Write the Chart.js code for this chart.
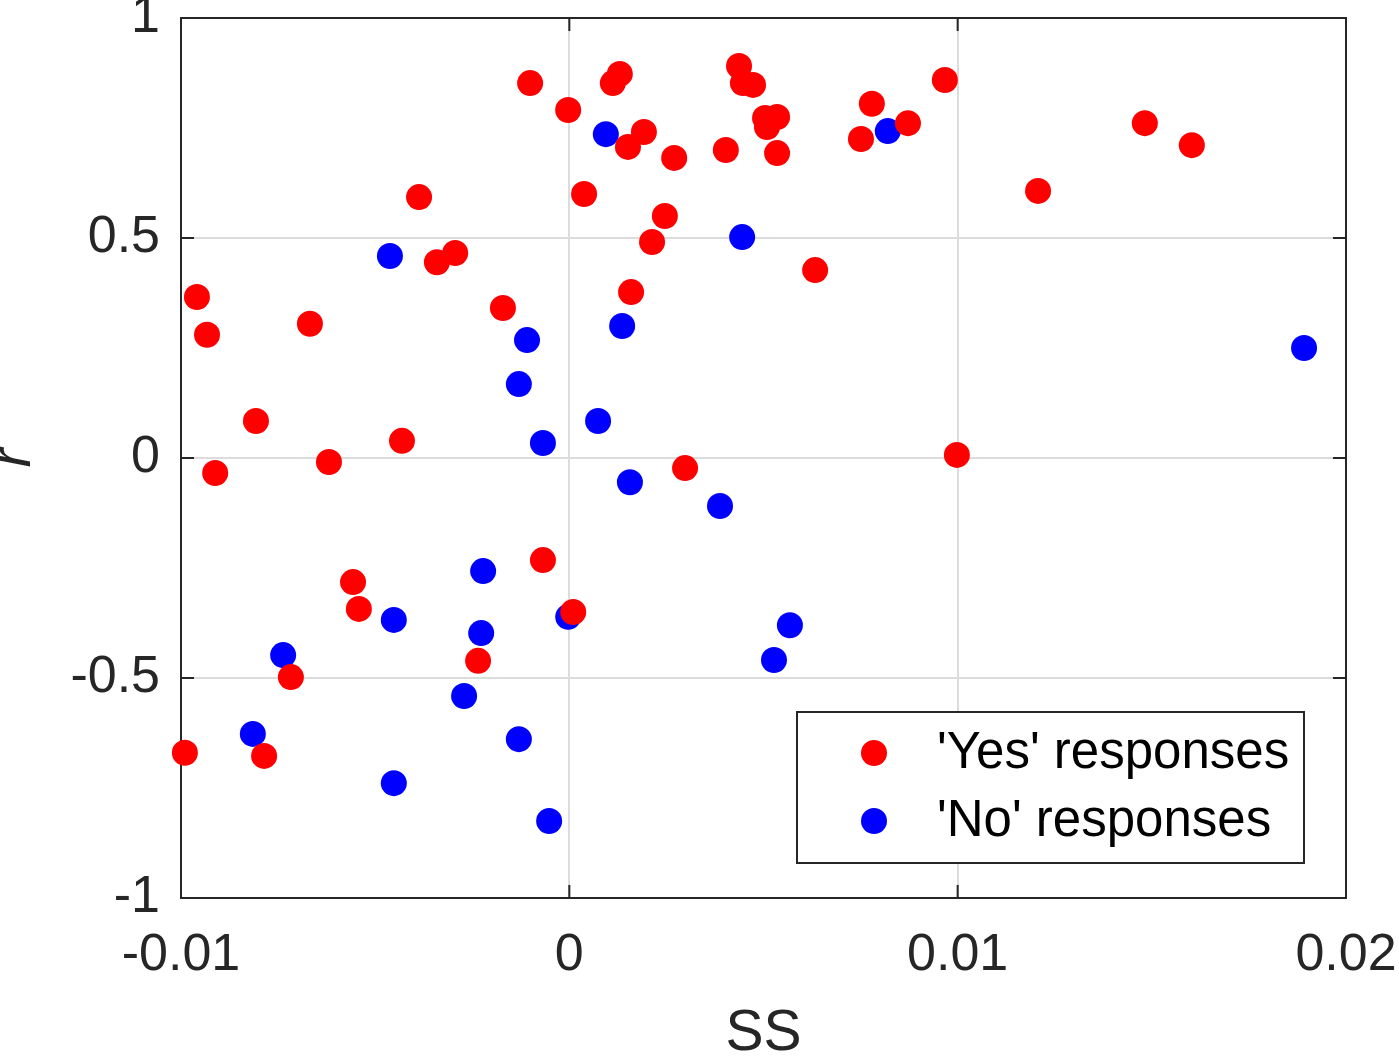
<!DOCTYPE html>
<html>
<head>
<meta charset="utf-8">
<script src="https://cdn.jsdelivr.net/npm/chart.js@4.4.1/dist/chart.umd.min.js"></script>
<style>
  html, body { margin: 0; padding: 0; background: #fff; }
  #wrap { width: 1399px; height: 1058px; }
</style>
</head>
<body>
<div id="wrap"><canvas id="myChart" width="1399" height="1058"></canvas></div>
<script>
// 'Yes' responses
var yesSS = [-0.00959, -0.00933, -0.00912, -0.00807, -0.00990, -0.00786, -0.00717, -0.00668,
             -0.00619, -0.00557, -0.00542, -0.00431, -0.00387, -0.00341, -0.00294, -0.00171,
             -0.00235, -0.00101, -0.00068, -0.00003, 0.00010, 0.00038, 0.00112, 0.00130,
             0.00151, 0.00192, 0.00159, 0.00213, 0.00246, 0.00270, 0.00298, 0.00403,
             0.00437, 0.00447, 0.00473, 0.00504, 0.00509, 0.00535, 0.00535, 0.00633,
             0.00751, 0.00779, 0.00872, 0.00967, 0.00998, 0.01207, 0.01482, 0.01603];
var yesR = [0.366, 0.280, -0.034, 0.084, -0.670, -0.677, -0.498, 0.305,
            -0.009, -0.282, -0.343, 0.039, 0.593, 0.445, 0.466, 0.341,
            -0.461, 0.852, -0.232, 0.791, -0.350, 0.600, 0.852, 0.873,
            0.707, 0.741, 0.377, 0.491, 0.550, 0.682, -0.023, 0.700,
            0.891, 0.852, 0.848, 0.773, 0.752, 0.775, 0.693, 0.427,
            0.725, 0.805, 0.761, 0.859, 0.007, 0.607, 0.761, 0.711];

// 'No' responses
var noSS = [-0.00462, -0.00109, -0.00130, -0.00068, 0.00094, 0.00136, 0.00074, 0.00156,
            0.00445, 0.00388, 0.00820, 0.01892, -0.00222, -0.00227, -0.00452, -0.00737,
            -0.00815, -0.00452, -0.00271, -0.00130, -0.00052, -0.00003, 0.00568, 0.00527];
var noR = [0.459, 0.268, 0.168, 0.034, 0.736, 0.300, 0.084, -0.055,
           0.502, -0.109, 0.743, 0.250, -0.257, -0.398, -0.368, -0.448,
           -0.627, -0.739, -0.541, -0.639, -0.825, -0.361, -0.380, -0.459];

var xTicks = [-0.01, 0, 0.01, 0.02];
var yTicks = [-1, -0.5, 0, 0.5, 1];
var seriesNames = ["'Yes' responses", "'No' responses"];

var axisColor = '#262626';
var fontFamily = '"Liberation Sans", Arial, Helvetica, sans-serif';

function toPoints(xs, ys) {
  var pts = [];
  for (var i = 0; i < xs.length; i++) {
    pts.push({ x: xs[i], y: ys[i] });
  }
  return pts;
}

// full box with ticks pointing inwards (under the markers)
var boxPlugin = {
  id: 'box',
  beforeDatasetsDraw: function (chart) {
    var ctx = chart.ctx, a = chart.chartArea;
    var sx = chart.scales.x, sy = chart.scales.y;
    var len = 13;
    ctx.save();
    ctx.strokeStyle = axisColor;
    ctx.lineWidth = 2;
    ctx.beginPath();
    xTicks.forEach(function (v) {
      var px = sx.getPixelForValue(v);
      ctx.moveTo(px, a.bottom); ctx.lineTo(px, a.bottom - len);
      ctx.moveTo(px, a.top); ctx.lineTo(px, a.top + len);
    });
    yTicks.forEach(function (v) {
      var py = sy.getPixelForValue(v);
      ctx.moveTo(a.left, py); ctx.lineTo(a.left + len, py);
      ctx.moveTo(a.right, py); ctx.lineTo(a.right - len, py);
    });
    ctx.stroke();
    ctx.strokeRect(a.left, a.top, a.right - a.left, a.bottom - a.top);
    ctx.restore();
  }
};

// legend box in the lower right corner of the plot
var legendPlugin = {
  id: 'boxLegend',
  afterDraw: function (chart) {
    var ctx = chart.ctx, a = chart.chartArea;
    var w = 507, h = 151;
    var right = a.right - 42, bottom = a.bottom - 35;
    var left = right - w, top = bottom - h;
    ctx.save();
    ctx.fillStyle = '#ffffff';
    ctx.fillRect(left, top, w, h);
    ctx.strokeStyle = axisColor;
    ctx.lineWidth = 2;
    ctx.strokeRect(left, top, w, h);
    ctx.font = '51px ' + fontFamily;
    ctx.textAlign = 'left';
    ctx.textBaseline = 'middle';
    chart.data.datasets.forEach(function (ds, i) {
      var cy = top + 41 + i * 68;
      ctx.fillStyle = ds.backgroundColor;
      ctx.beginPath();
      ctx.arc(left + 77, cy, 13, 0, Math.PI * 2);
      ctx.fill();
      ctx.fillStyle = '#000000';
      ctx.fillText(ds.label, left + 140, cy + 1);
    });
    ctx.restore();
  }
};

var ctx = document.getElementById('myChart');

var scatterChart = new Chart(ctx, {
  type: 'scatter',
  data: {
    datasets: [{
      label: seriesNames[0],
      data: toPoints(yesSS, yesR),
      backgroundColor: '#ff0000',
      borderWidth: 0,
      pointRadius: 13,
      pointHoverRadius: 13,
      clip: false
    }, {
      label: seriesNames[1],
      data: toPoints(noSS, noR),
      backgroundColor: '#0000ff',
      borderWidth: 0,
      pointRadius: 13,
      pointHoverRadius: 13,
      clip: false
    }]
  },
  options: {
    responsive: false,
    animation: false,
    devicePixelRatio: 1,
    events: [],
    layout: { padding: { left: 0, top: 18, right: 53, bottom: 0 } },
    plugins: {
      legend: { display: false },
      tooltip: { enabled: false }
    },
    scales: {
      x: {
        type: 'linear',
        min: -0.01,
        max: 0.02,
        afterFit: function (s) {
          s.height = 160;
          s.paddingLeft = 0; s.paddingRight = 0;
        },
        afterBuildTicks: function (s) { s.ticks = xTicks.map(function (v) { return { value: v }; }); },
        ticks: {
          padding: 26,
          maxRotation: 0,
          autoSkip: false,
          color: axisColor,
          font: { size: 52, family: fontFamily },
          callback: function (v) { return String(Math.round(v * 100) / 100); }
        },
        grid: { color: '#dcdcdc', lineWidth: 2, drawTicks: false },
        border: { color: axisColor, width: 2 },
        title: {
          display: true,
          text: 'SS',
          color: axisColor,
          font: { size: 57, family: fontFamily, lineHeight: 0.8 },
          padding: { top: 0, bottom: 1 }
        }
      },
      y: {
        type: 'linear',
        min: -1,
        max: 1,
        afterFit: function (s) {
          s.width = 181;
          s.paddingTop = 0; s.paddingBottom = 0;
        },
        afterBuildTicks: function (s) { s.ticks = yTicks.map(function (v) { return { value: v }; }); },
        ticks: {
          padding: 21,
          autoSkip: false,
          color: axisColor,
          font: { size: 52, family: fontFamily },
          callback: function (v) { return String(Math.round(v * 10) / 10); }
        },
        grid: { color: '#dcdcdc', lineWidth: 2, drawTicks: false },
        border: { color: axisColor, width: 2 },
        title: {
          display: true,
          text: 'r',
          color: axisColor,
          font: { size: 57, family: fontFamily, style: 'italic', lineHeight: 0.5 },
          padding: { top: 0, bottom: 0 }
        }
      }
    }
  },
  plugins: [boxPlugin, legendPlugin]
});
</script>
</body>
</html>
